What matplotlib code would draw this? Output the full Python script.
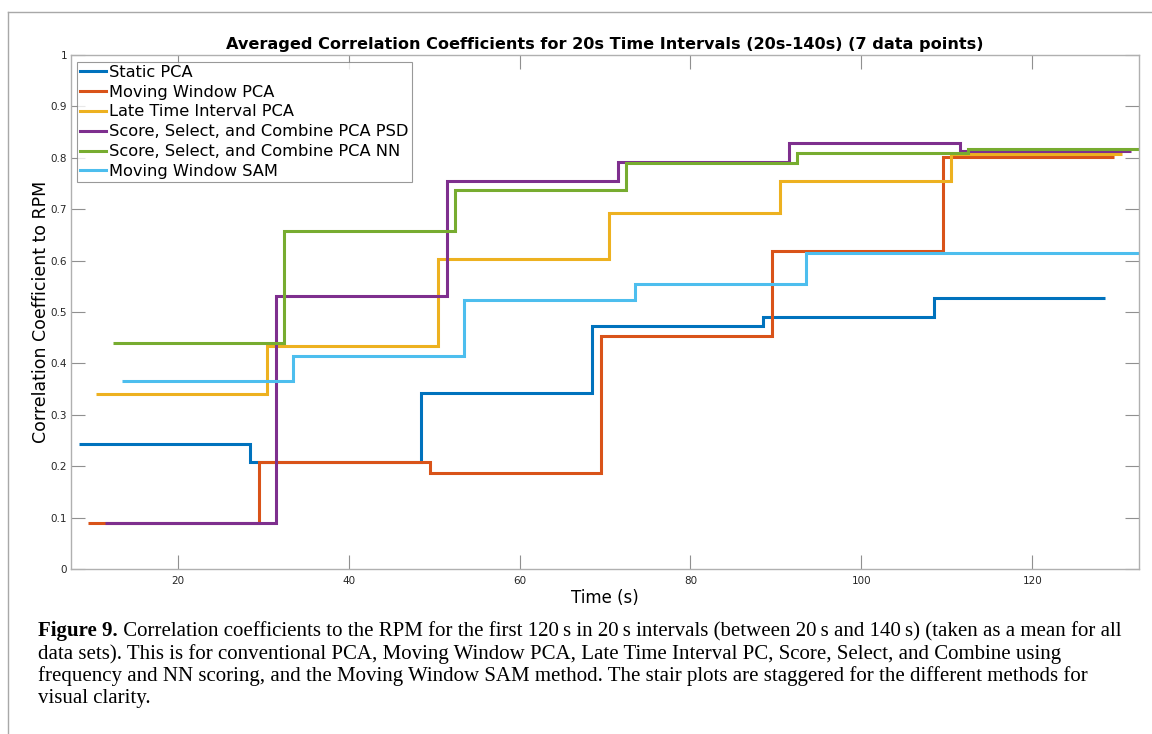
import matplotlib
matplotlib.use('Agg')
import matplotlib.pyplot as plt
from matplotlib.lines import Line2D

plt.rcParams['font.family'] = ['DejaVu Sans']

# stair edges (s) and levels for each method
edges_static = [8.5, 28.5, 48.5, 68.5, 88.5, 108.5, 128.5]
vals_static = [0.243, 0.208, 0.343, 0.473, 0.491, 0.528]

edges_mwpca = [9.5, 29.5, 49.5, 69.5, 89.5, 109.5, 129.5]
vals_mwpca = [0.090, 0.209, 0.186, 0.453, 0.619, 0.802]

edges_late = [10.5, 30.5, 50.5, 70.5, 90.5, 110.5, 130.5]
vals_late = [0.341, 0.433, 0.604, 0.692, 0.754, 0.807]

edges_psd = [11.5, 31.5, 51.5, 71.5, 91.5, 111.5, 131.5]
vals_psd = [0.090, 0.532, 0.755, 0.791, 0.828, 0.813]

edges_nn = [12.5, 32.5, 52.5, 72.5, 92.5, 112.5, 132.5]
vals_nn = [0.440, 0.658, 0.737, 0.790, 0.810, 0.818]

edges_sam = [13.5, 33.5, 53.5, 73.5, 93.5, 113.5, 133.5]
vals_sam = [0.365, 0.414, 0.523, 0.554, 0.614, 0.614]

labels = ['Static PCA', 'Moving Window PCA', 'Late Time Interval PCA',
          'Score, Select, and Combine PCA PSD', 'Score, Select, and Combine PCA NN',
          'Moving Window SAM']
colors = ['#0072BD', '#D95319', '#EDB120', '#7E2F8E', '#77AC30', '#4DBEEE']

caption_lines = [
    'Correlation coefficients to the RPM for the first 120\u2009s in 20\u2009s intervals (between 20\u2009s and 140\u2009s) (taken as a mean for all',
    'data sets). This is for conventional PCA, Moving Window PCA, Late Time Interval PC, Score, Select, and Combine using',
    'frequency and NN scoring, and the Moving Window SAM method. The stair plots are staggered for the different methods for',
    'visual clarity.',
]

W, H = 1152, 734
fig = plt.figure(figsize=(W / 100, H / 100), dpi=100)
ax = fig.add_axes([70.7 / W, 165 / H, (1139.3 - 70.7) / W, 514 / H])

series = [(edges_static, vals_static), (edges_mwpca, vals_mwpca), (edges_late, vals_late),
          (edges_psd, vals_psd), (edges_nn, vals_nn), (edges_sam, vals_sam)]
for (e, v), lab, c in zip(series, labels, colors):
    ax.stairs(v, e, color=c, lw=2.2, label=lab, baseline=None)

ax.set_xlim(7.5, 132.5)
ax.set_ylim(0, 1)
ax.set_xticks([20, 40, 60, 80, 100, 120])
ax.set_yticks([0, 0.1, 0.2, 0.3, 0.4, 0.5, 0.6, 0.7, 0.8, 0.9, 1])
ax.set_yticklabels(['0', '0.1', '0.2', '0.3', '0.4', '0.5', '0.6', '0.7', '0.8', '0.9', '1'])
ax.tick_params(direction='in', length=10, width=0.8, color='#909090', labelsize=7.5,
               labelcolor='#262626', top=True, right=True, pad=5)
ax.tick_params(axis='y', pad=2.5)
for s in ax.spines.values():
    s.set_color('#b0b0b0')
    s.set_linewidth(1.0)

ax.set_title('Averaged Correlation Coefficients for 20s Time Intervals (20s-140s) (7 data points)',
             fontsize=11.6, fontweight='bold', pad=4)
ax.set_xlabel('Time (s)', fontsize=12, labelpad=2)
ax.set_ylabel('Correlation Coefficient to RPM', fontsize=12.5)
ax.yaxis.set_label_coords(-0.0195, 0.5)

leg = ax.legend(loc='upper left', fontsize=11.7, frameon=True, fancybox=False,
                handlelength=1.6, handletextpad=0.15, borderpad=0.2, labelspacing=0.3,
                borderaxespad=0.4)
leg.get_frame().set_edgecolor('#808080')
leg.get_frame().set_linewidth(0.8)

# page frame around the figure
fig.add_artist(Line2D([8 / W, 1], [1 - 11.5 / H, 1 - 11.5 / H], color='#a8a8a8', lw=1.0))
fig.add_artist(Line2D([8 / W, 8 / W], [0, 1 - 11.5 / H], color='#a8a8a8', lw=1.0))

# caption
cap_x = 38 / W
cap_fs = 15.0
line_y = [636, 658.5, 681, 703.5]
t = fig.text(cap_x, 1 - line_y[0] / H, 'Figure 9.', fontsize=cap_fs, fontweight='bold',
             family='Liberation Serif', va='baseline')
ax.annotate(' ' + caption_lines[0], xy=(1, 0), xycoords=t, va='bottom', ha='left',
            fontsize=cap_fs, family='Liberation Serif', annotation_clip=False)
for ln, yy in zip(caption_lines[1:], line_y[1:]):
    fig.text(cap_x, 1 - yy / H, ln, fontsize=cap_fs, family='Liberation Serif', va='baseline')

fig.savefig('out.png', dpi=100)
